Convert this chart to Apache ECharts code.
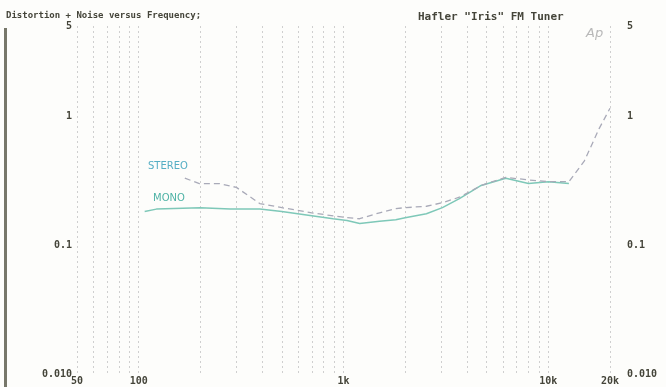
<!DOCTYPE html>
<html><head><meta charset="utf-8">
<script src="https://cdn.jsdelivr.net/npm/echarts@6/dist/echarts.min.js"></script>
<style>html,body{margin:0;padding:0;background:#fdfdfb;}#c{width:666px;height:387px;}</style>
</head><body><div id="c"></div>
<script>
// Frequency gridline values (Hz)
const xGrid = [50,60,70,80,90,100,200,300,400,500,600,700,800,900,1000,2000,3000,4000,5000,6000,7000,8000,9000,10000,20000];
const xTickValues = [50,100,1000,10000,20000];
const xTickLabels = ["50","100","1k","10k","20k"];
const yTickValues = [0.01,0.1,1,5];
const yTickLabels = ["0.010","0.1","1","5"];
// MONO: [frequency Hz, THD+N %]
const monoData = [[107,0.182],[122,0.19],[200,0.195],[280,0.19],[390,0.19],[500,0.182],[700,0.169],[890,0.16],[1040,0.155],[1200,0.147],[1500,0.153],[1800,0.157],[2000,0.163],[2540,0.175],[3040,0.195],[3680,0.229],[4700,0.29],[6200,0.33],[8000,0.30],[10000,0.31],[12600,0.30]];
// STEREO: [frequency Hz, THD+N %]
const stereoData = [[168,0.33],[198,0.30],[248,0.30],[300,0.28],[390,0.21],[500,0.195],[700,0.178],[900,0.168],[1040,0.163],[1200,0.160],[1500,0.178],[1800,0.192],[2000,0.195],[2540,0.20],[3040,0.213],[3680,0.235],[4700,0.29],[6200,0.335],[8000,0.32],[10000,0.31],[12600,0.31],[15000,0.45],[17700,0.8],[20000,1.15]];

const chart = echarts.init(document.getElementById('c'), null, {renderer:'canvas'});
const labelFont = {fontFamily:'DejaVu Sans Mono', fontWeight:'bold', fontSize:10, color:'#45453a'};
const yMap = v => yTickLabels[yTickValues.indexOf(v)] ?? '';
function ySide(pos, margin){
  return {type:'log', logBase:10, min:0.01, max:5, position:pos,
    axisLine:{show:false}, axisTick:{show:false}, splitLine:{show:false},
    axisLabel:Object.assign({customValues:yTickValues, margin:margin, formatter:yMap}, labelFont)};
}
chart.setOption({
  backgroundColor:'#fdfdfb',
  animation:false,
  grid:{left:77, right:56, top:26, bottom:13, containLabel:false},
  xAxis:{type:'log', logBase:10, min:50, max:20000,
    axisLine:{show:false},
    axisTick:{show:false, customValues:xGrid},
    splitLine:{show:true, lineStyle:{color:'#cfcfcf', type:[2,3], width:1}},
    axisLabel:Object.assign({customValues:xTickValues, margin:2,
      formatter:v => xTickLabels[xTickValues.indexOf(v)] ?? ''}, labelFont)},
  yAxis:[ySide('left',5), ySide('right',17)],
  series:[
    {name:'MONO', type:'line', data:monoData, showSymbol:false, smooth:false,
     lineStyle:{color:'#7ec8b8', width:1.5}},
    {name:'STEREO', type:'line', data:stereoData, showSymbol:false,
     lineStyle:{color:'#a9aab8', width:1.3, type:[6,4]}}
  ],
  graphic:[
    {type:'rect', shape:{x:4, y:28, width:3, height:359}, style:{fill:'#77776a'}},
    {type:'text', left:6, top:11, style:{text:'Distortion + Noise versus Frequency;', font:'bold 9px "DejaVu Sans Mono"', fill:'#45453a'}},
    {type:'text', left:418, top:12, style:{text:'Hafler "Iris" FM Tuner', font:'bold 11px "DejaVu Sans Mono"', fill:'#45453a'}},
    {type:'text', left:586, top:27, style:{text:'Ap', font:'italic 13px "DejaVu Sans"', fill:'#b8b8b8'}},
    {type:'text', left:148, top:161, style:{text:'STEREO', font:'10px "DejaVu Sans"', fill:'#55aec4'}},
    {type:'text', left:153, top:193, style:{text:'MONO', font:'10px "DejaVu Sans"', fill:'#4fb3a6'}}
  ]
});
</script></body></html>
